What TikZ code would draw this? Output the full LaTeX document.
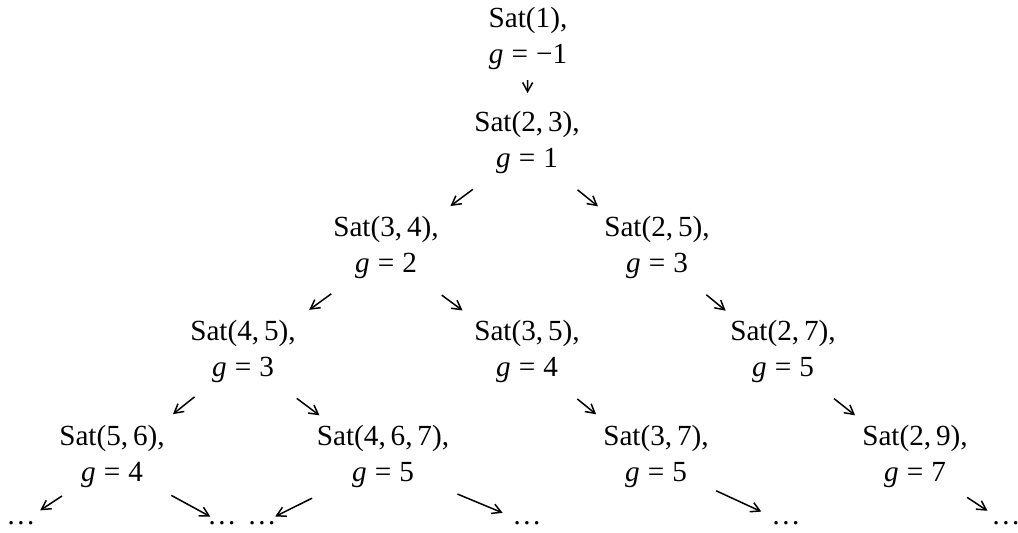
\documentclass[tikz,border=0pt]{standalone}
\usepackage{fontspec}
\setmainfont{Liberation Serif}
\usetikzlibrary{calc,arrows.meta}
\newcommand\myeq{\hspace{0.278em}=\hspace{0.278em}}
\newcommand\topstrut{\rule{0pt}{12pt}}
\newcommand\botstrut{\rule[-12pt]{0pt}{12pt}}
\newcommand\satnode[4]{\node[st] (#1) at (#2) {\topstrut Sat(#3),\\\textit{g}\myeq#4\botstrut};}
\newcommand\treearrow[4]{\draw[arr] ($(#1)!#3!(#2)$) -- ($(#1)!#4!(#2)$);}
\begin{document}
\begin{tikzpicture}[x=0.5pt,y=-0.5pt,
  st/.style={align=center, inner sep=0pt, font=\fontsize{14.6}{18}\selectfont},
  dt/.style={inner sep=0pt, font=\fontsize{14.6}{18}\selectfont},
  arr/.style={line width=0.75pt, -{Straight Barb[length=4.5pt,width=5pt]}}]
\useasboundingbox[fill=white] (0,0) rectangle (1018,532);
\satnode{n0}{528,45}{1}{−1}
\satnode{n1}{527,149}{2,\,3}{1}
\satnode{n2a}{386,254}{3,\,4}{2}
\satnode{n2b}{657,254}{2,\,5}{3}
\satnode{n3a}{243,358}{4,\,5}{3}
\satnode{n3b}{527,358}{3,\,5}{4}
\satnode{n3c}{783,358}{2,\,7}{5}
\satnode{n4a}{112,463}{5,\,6}{4}
\satnode{n4b}{383,463}{4,\,6,\,7}{5}
\satnode{n4c}{656,463}{3,\,7}{5}
\satnode{n4d}{915,463}{2,\,9}{7}
\node[dt] (d1) at (21,523) {…};
\node[dt] (d2) at (222,523) {…};
\node[dt] (d3) at (262,523) {…};
\node[dt] (d4) at (527,523) {…};
\node[dt] (d5) at (786,523) {…};
\node[dt] (d6) at (1006,523) {…};
\treearrow{n0}{n1}{0.337}{0.462}
\treearrow{n1}{n2a}{0.384}{0.543}
\treearrow{n1}{n2b}{0.389}{0.546}
\treearrow{n2a}{n3a}{0.383}{0.537}
\treearrow{n2a}{n3b}{0.395}{0.543}
\treearrow{n2b}{n3c}{0.392}{0.545}
\treearrow{n3a}{n4a}{0.370}{0.535}
\treearrow{n3a}{n4b}{0.384}{0.546}
\treearrow{n3b}{n4c}{0.390}{0.536}
\treearrow{n3c}{n4d}{0.387}{0.546}
\treearrow{n4a}{d1}{0.550}{0.789}
\treearrow{n4a}{d2}{0.540}{0.894}
\treearrow{n4b}{d3}{0.586}{0.891}
\treearrow{n4b}{d4}{0.517}{0.831}
\treearrow{n4c}{d5}{0.463}{0.810}
\treearrow{n4d}{d6}{0.573}{0.796}
\end{tikzpicture}
\end{document}
